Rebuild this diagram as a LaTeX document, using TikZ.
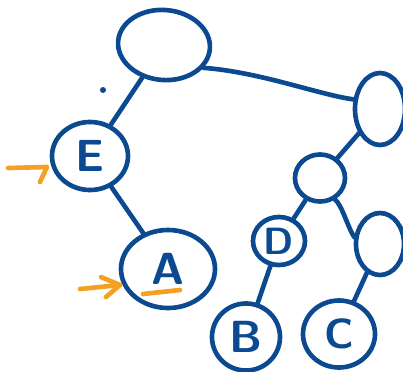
\documentclass[tikz,border=0pt]{standalone}
\usetikzlibrary{shapes.geometric}
\definecolor{inkblue}{HTML}{0B4A90}
\definecolor{inkorange}{HTML}{F5A023}
\begin{document}
\begin{tikzpicture}[x=0.025cm,y=-0.025cm,
  vtx/.style={ellipse,draw=inkblue,line width=3.3pt,inner sep=0pt,text=inkblue,font=\sffamily},
  link/.style={draw=inkblue,line width=3.3pt,line cap=round},
  orangemark/.style={draw=inkorange,line width=3.3pt,line cap=round,line join=round}]
\useasboundingbox (0,0) rectangle (403,371);
\node[vtx,minimum width=2.3cm,minimum height=1.75cm,rotate=-5] (root) at (164,45) {};
\node[vtx,minimum width=1.9cm,minimum height=1.7cm,font=\sffamily\bfseries\fontsize{32}{32}\selectfont] (E) at (90,156) {E};
\node[vtx,minimum width=2.35cm,minimum height=1.95cm,font=\sffamily\bfseries\fontsize{32}{32}\selectfont] (A) at (168,269) {A};
\node[vtx,minimum width=1.25cm,minimum height=1.8cm] (R) at (380,109) {};
\node[vtx,minimum width=1.25cm,minimum height=1.175cm] (M) at (320,178) {};
\node[vtx,minimum width=1.3cm,minimum height=1.2cm,font=\sffamily\bfseries\fontsize{27}{27}\selectfont] (D) at (279,241) {D};
\node[vtx,minimum width=1.2cm,minimum height=1.55cm] (RC) at (380,244) {};
\node[vtx,minimum width=1.7cm,minimum height=1.675cm,font=\sffamily\bfseries\fontsize{32}{32}\selectfont] (B) at (246,337) {B};
\node[vtx,minimum width=1.8cm,minimum height=1.675cm,font=\sffamily\bfseries\fontsize{30}{30}\selectfont] (C) at (339,334) {C};
% edges
\draw[link] (root) -- (E);
\draw[link] (root.-25) .. controls (260,72) and (320,95) .. (R.160);
\draw[link] (R) -- (M);
\draw[link] (M) -- (D);
\draw[link] (M.-55) .. controls (342,205) and (348,228) .. (RC.165);
\draw[link] (D) -- (B);
\draw[link] (RC) -- (C);
\draw[link] (E) -- (A);
% dot
\fill[inkblue] (103,90) circle (0.075cm);
% orange marks
\coordinate (a1s) at (8,168);
\coordinate (a1t) at (47,167);
\coordinate (a1h) at (40,182);
\draw[orangemark] (a1s) -- (a1t) -- (a1h);
\coordinate (a2s) at (80,289);
\coordinate (a2t) at (120,285);
\draw[orangemark] (a2s) -- (a2t);
\draw[orangemark] (101,277) -- (a2t) -- (106,297);
\coordinate (u1) at (143,294);
\coordinate (u2) at (180,290);
\draw[orangemark] (u1) -- (u2);
\end{tikzpicture}
\end{document}
